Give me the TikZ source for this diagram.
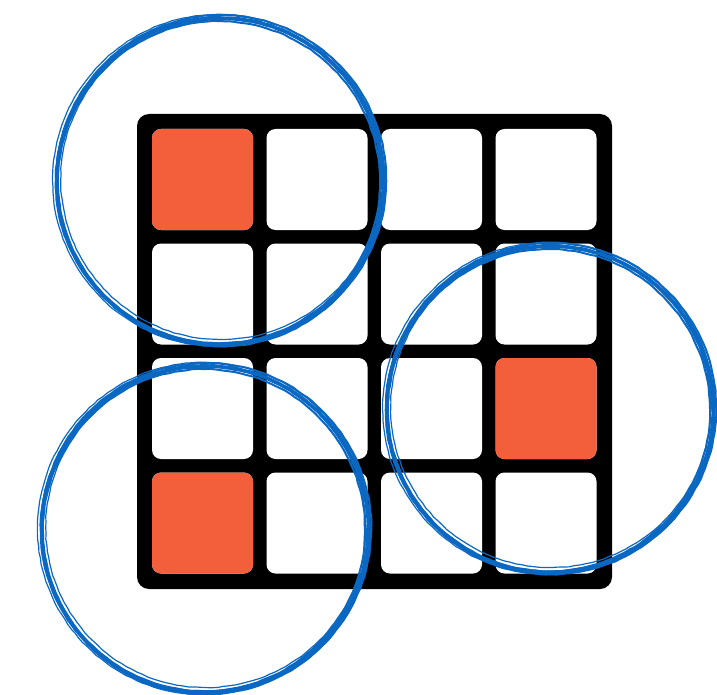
\documentclass[tikz,border=0pt]{standalone}
\usetikzlibrary{decorations.pathmorphing}
\definecolor{gridorange}{HTML}{F45F3B}
\definecolor{penblue}{HTML}{0A68C2}
\tikzset{
  cellbox/.style={minimum width=101pt, minimum height=101pt, inner sep=0pt, rounded corners=9pt, draw=none},
  whitecell/.style={cellbox, fill=white},
  orangecell/.style={cellbox, fill=gridorange},
  penstroke/.style={draw=penblue, line width=#1, decorate, decoration={random steps, segment length=6pt, amplitude=0.35pt}},
}
\begin{document}
\begin{tikzpicture}[x=1pt,y=-1pt]
\pgfmathsetseed{7}
\useasboundingbox (0,0) rectangle (717,695);
\fill[black, rounded corners=12pt] (137,114) rectangle (612,589);
\foreach \i in {0,1,2,3}{
  \foreach \j in {0,1,2,3}{
    \node[whitecell] (c\i\j) at ({202.5+114.5*\i},{179.5+114.5*\j}) {};
  }
}
\node[orangecell] (o00) at (202.5,179.5) {};
\node[orangecell] (o32) at ({202.5+114.5*3},{179.5+114.5*2}) {};
\node[orangecell] (o03) at (202.5,{179.5+114.5*3}) {};
% hand-drawn circles
\foreach \cx/\cy in {220/181, 550/409, 205/529}{
  \foreach \dx/\dy/\dr/\w in {0/0/0/3.6pt, 1.2/-0.8/2.0/2.0pt, -1.0/1.2/-2.0/2.0pt, 0.8/1.4/1.0/1.6pt, -1.4/-0.6/3.0/1.2pt, 0.8/-1.5/-3.0/1.2pt, -0.5/0.6/0.8/1.8pt}{
    \draw[penstroke=\w] ({\cx+\dx},{\cy+\dy}) circle[radius={163pt+\dr pt}];
  }
}
\end{tikzpicture}
\end{document}
